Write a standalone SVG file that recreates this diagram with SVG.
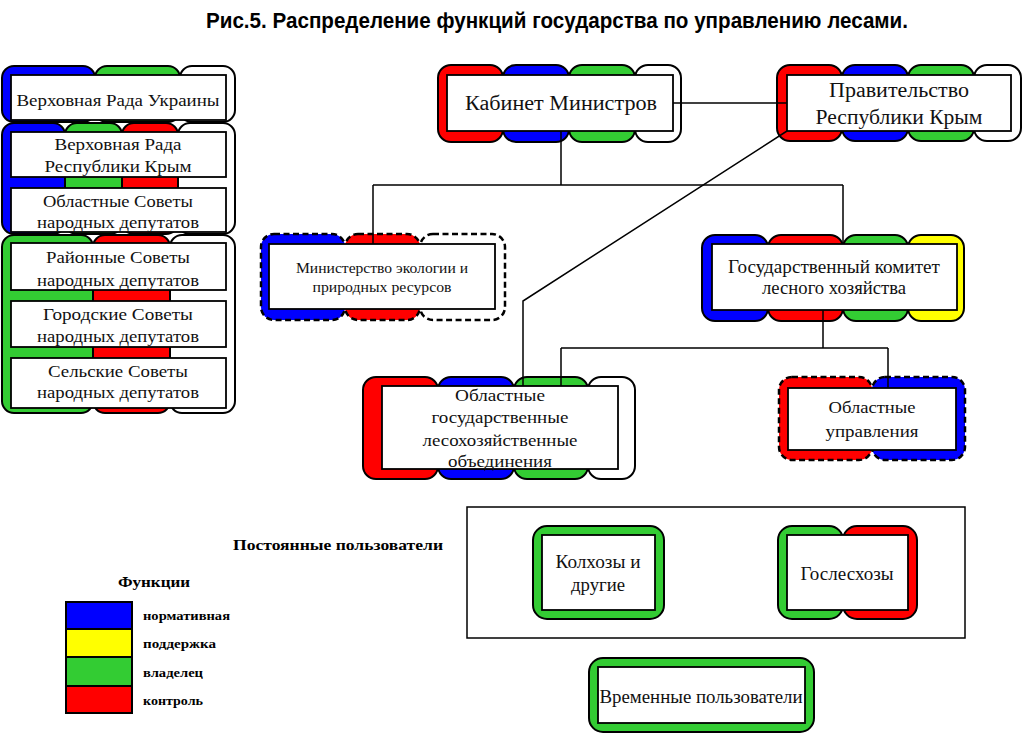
<svg xmlns="http://www.w3.org/2000/svg" width="1024" height="735" viewBox="0 0 1024 735">
<style>
.p{stroke:#000;stroke-width:2}
.d{stroke-dasharray:6 3.5;stroke-width:2.5}
.b{fill:#0000ff}.g{fill:#33cc33}.r{fill:#ff0000}.y{fill:#ffff00}.w{fill:#ffffff}
.in{fill:#fff;stroke:#000;stroke-width:1.8}
.t{font-family:"Liberation Serif","Times New Roman",serif;fill:#111;text-anchor:middle}
.s16{font-size:16px}.s17{font-size:17px}.s18{font-size:18px}.s20{font-size:20px}
.lb{font-family:"Liberation Serif","Times New Roman",serif;font-weight:bold;fill:#000}
.c{fill:none;stroke:#000;stroke-width:1.5}
</style>
<rect width="1024" height="735" fill="#fff"/>
<text x="206" y="28" font-family="Liberation Sans, Arial, sans-serif" font-weight="bold" font-size="22" textLength="702" lengthAdjust="spacingAndGlyphs" fill="#000">Рис.5. Распределение функций государства по управлению лесами.</text>

<g id="verkhovna-rada-ukrainy">
<rect class="p b" x="2" y="66" width="93" height="56" rx="12"/>
<rect class="p g" x="95" y="66" width="85" height="56" rx="12"/>
<rect class="p w" x="180" y="66" width="55" height="56" rx="12"/>
<rect class="in" x="11" y="75" width="215" height="45"/>
<text class="t s17" x="118" y="106" textLength="203" lengthAdjust="spacingAndGlyphs">Верховная Рада Украины</text>
</g>

<g id="rada-krym-oblast">
<rect class="p b" x="2" y="123" width="63" height="111" rx="12"/>
<rect class="p g" x="65" y="123" width="57" height="111" rx="12"/>
<rect class="p r" x="122" y="123" width="56" height="111" rx="12"/>
<rect class="p w" x="178" y="123" width="57" height="111" rx="12"/>
<rect class="in" x="11" y="132" width="215" height="45"/>
<text class="t s16" x="118" y="150" textLength="127" lengthAdjust="spacingAndGlyphs">Верховная Рада</text>
<text class="t s16" x="118" y="172" textLength="147" lengthAdjust="spacingAndGlyphs">Республики Крым</text>
<rect class="in" x="11" y="188" width="215" height="44"/>
<text class="t s16" x="118" y="207" textLength="150" lengthAdjust="spacingAndGlyphs">Областные Советы</text>
<text class="t s16" x="118" y="228" textLength="162" lengthAdjust="spacingAndGlyphs">народных  депутатов</text>
</g>

<g id="local-councils">
<rect class="p g" x="2" y="235" width="91" height="178" rx="12"/>
<rect class="p r" x="93" y="235" width="77" height="178" rx="12"/>
<rect class="p w" x="170" y="235" width="65" height="178" rx="12"/>
<rect class="in" x="11" y="243" width="215" height="47"/>
<text class="t s16" x="118" y="263" textLength="144" lengthAdjust="spacingAndGlyphs">Районные Советы</text>
<text class="t s16" x="118" y="286" textLength="162" lengthAdjust="spacingAndGlyphs">народных  депутатов</text>
<rect class="in" x="11" y="301" width="215" height="46"/>
<text class="t s16" x="118" y="320" textLength="150" lengthAdjust="spacingAndGlyphs">Городские Советы</text>
<text class="t s16" x="118" y="342" textLength="162" lengthAdjust="spacingAndGlyphs">народных  депутатов</text>
<rect class="in" x="11" y="358" width="215" height="50"/>
<text class="t s16" x="118" y="377" textLength="140" lengthAdjust="spacingAndGlyphs">Сельские Советы</text>
<text class="t s16" x="118" y="398" textLength="162" lengthAdjust="spacingAndGlyphs">народных  депутатов</text>
</g>

<g id="kabinet">
<rect class="p r" x="438" y="65" width="65" height="77" rx="13"/>
<rect class="p b" x="503" y="65" width="66" height="77" rx="13"/>
<rect class="p g" x="569" y="65" width="66" height="77" rx="13"/>
<rect class="p w" x="635" y="65" width="46" height="77" rx="13"/>
<rect class="in" x="447" y="75" width="226" height="56"/>
<text class="t s20" x="561" y="110" textLength="192" lengthAdjust="spacingAndGlyphs">Кабинет Министров</text>
</g>

<g id="pravitelstvo">
<rect class="p r" x="777" y="65" width="65" height="76" rx="13"/>
<rect class="p b" x="842" y="65" width="66" height="76" rx="13"/>
<rect class="p g" x="908" y="65" width="66" height="76" rx="13"/>
<rect class="p w" x="974" y="65" width="47" height="76" rx="13"/>
<rect class="in" x="787" y="75" width="224" height="56"/>
<text class="t s20" x="899" y="97" textLength="140" lengthAdjust="spacingAndGlyphs">Правительство</text>
<text class="t s20" x="899" y="124" textLength="167" lengthAdjust="spacingAndGlyphs">Республики Крым</text>
</g>

<g id="ministerstvo">
<rect class="p d b" x="261" y="234" width="84" height="86" rx="13"/>
<rect class="p d r" x="345" y="234" width="75" height="86" rx="13"/>
<rect class="p d w" x="420" y="234" width="85" height="86" rx="13"/>
<rect class="in" x="269" y="244" width="226" height="65"/>
<text class="t" font-size="14.5" x="382" y="273" textLength="172" lengthAdjust="spacingAndGlyphs">Министерство экологии и</text>
<text class="t" font-size="14.5" x="382" y="292" textLength="139" lengthAdjust="spacingAndGlyphs">природных ресурсов</text>
</g>

<g id="goskomitet">
<rect class="p b" x="702" y="235" width="66" height="86" rx="13"/>
<rect class="p r" x="768" y="235" width="75" height="86" rx="13"/>
<rect class="p g" x="843" y="235" width="65" height="86" rx="13"/>
<rect class="p y" x="908" y="235" width="56" height="86" rx="13"/>
<rect class="in" x="712" y="244" width="245" height="66"/>
<text class="t s18" x="834" y="273" textLength="212" lengthAdjust="spacingAndGlyphs">Государственный комитет</text>
<text class="t s18" x="834" y="294" textLength="144" lengthAdjust="spacingAndGlyphs">лесного хозяйства</text>
</g>

<g id="oblast-les-obyedinenia">
<rect class="p r" x="363" y="377" width="75" height="102" rx="13"/>
<rect class="p b" x="438" y="377" width="76" height="102" rx="13"/>
<rect class="p g" x="514" y="377" width="74" height="102" rx="13"/>
<rect class="p w" x="588" y="377" width="47" height="102" rx="13"/>
<rect class="in" x="382" y="386" width="236" height="83"/>
<text class="t s17" x="500" y="401" textLength="90" lengthAdjust="spacingAndGlyphs">Областные</text>
<text class="t s17" x="500" y="423" textLength="137" lengthAdjust="spacingAndGlyphs">государственные</text>
<text class="t s17" x="500" y="446" textLength="155" lengthAdjust="spacingAndGlyphs">лесохозяйственные</text>
<text class="t s17" x="500" y="467" textLength="104" lengthAdjust="spacingAndGlyphs">объединения</text>
</g>

<g id="oblast-upravlenia">
<rect class="p d r" x="779" y="377" width="93" height="83" rx="13"/>
<rect class="p d b" x="872" y="377" width="93" height="83" rx="13"/>
<rect class="in" x="788" y="388" width="168" height="62"/>
<text class="t s17" x="872" y="413" textLength="87" lengthAdjust="spacingAndGlyphs">Областные</text>
<text class="t s17" x="872" y="437" textLength="93" lengthAdjust="spacingAndGlyphs">управления</text>
</g>

<g id="postoyannye">
<rect x="467" y="507" width="498" height="131" fill="none" stroke="#000" stroke-width="1.5"/>
<text class="lb" x="233" y="550" font-size="15" textLength="210" lengthAdjust="spacingAndGlyphs">Постоянные пользователи</text>
</g>

<g id="kolkhozy">
<rect class="p g" x="533" y="526" width="131" height="93" rx="14"/>
<rect class="in" x="542" y="535" width="113" height="75"/>
<text class="t s18" x="598" y="568" textLength="85" lengthAdjust="spacingAndGlyphs">Колхозы и</text>
<text class="t s18" x="598" y="591" textLength="54" lengthAdjust="spacingAndGlyphs">другие</text>
</g>

<g id="gosleskhozy">
<rect class="p g" x="778" y="526" width="65" height="93" rx="14"/>
<rect class="p r" x="843" y="526" width="74" height="93" rx="14"/>
<rect class="in" x="787" y="535" width="121" height="75"/>
<text class="t s18" x="847" y="580" textLength="93" lengthAdjust="spacingAndGlyphs">Гослесхозы</text>
</g>

<g id="vremennye">
<rect class="p g" x="589" y="658" width="225" height="74" rx="14"/>
<rect class="in" x="598" y="667" width="207" height="56"/>
<text class="t" font-size="19" x="701" y="703" textLength="203" lengthAdjust="spacingAndGlyphs">Временные пользователи</text>
</g>

<g id="legend">
<text class="lb" x="118" y="587" font-size="15" textLength="72" lengthAdjust="spacingAndGlyphs">Функции</text>
<rect class="p b" x="66" y="602" width="66" height="27"/>
<rect class="p y" x="66" y="629" width="66" height="28"/>
<rect class="p g" x="66" y="657" width="66" height="29"/>
<rect class="p r" x="66" y="686" width="66" height="27"/>
<text class="lb" x="143" y="620" font-size="12" textLength="87" lengthAdjust="spacingAndGlyphs">нормативная</text>
<text class="lb" x="143" y="648" font-size="12" textLength="73" lengthAdjust="spacingAndGlyphs">поддержка</text>
<text class="lb" x="143" y="677" font-size="12" textLength="60" lengthAdjust="spacingAndGlyphs">владелец</text>
<text class="lb" x="143" y="705" font-size="12" textLength="60" lengthAdjust="spacingAndGlyphs">контроль</text>
</g>

<g id="connectors" class="c">
<path d="M673,103 H787"/>
<path d="M561,131 V185 M373,185 H843 M373,185 V244 M843,185 V244"/>
<path d="M787,131 L523,301 V386"/>
<path d="M823,310 V348 M561,348 H888 M561,348 V386 M888,348 V388"/>
</g>
</svg>
